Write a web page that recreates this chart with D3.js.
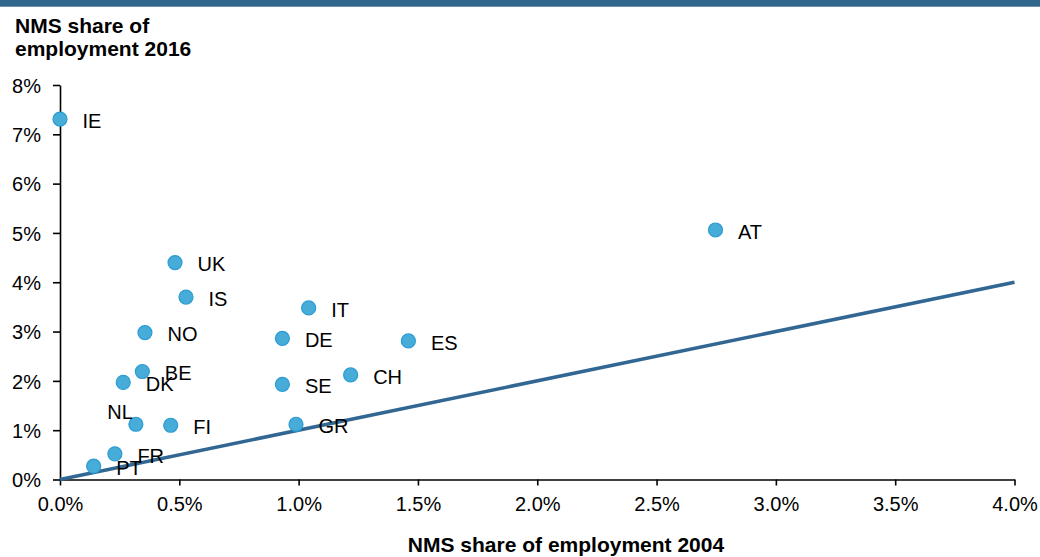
<!DOCTYPE html>
<html>
<head>
<meta charset="utf-8">
<script src="https://cdn.jsdelivr.net/npm/d3@7/dist/d3.min.js"></script>
<style>
  html, body { margin: 0; padding: 0; background: #fff; }
  svg { display: block; font-family: "Liberation Sans", Arial, sans-serif; }
</style>
</head>
<body>
<svg id="chart" width="1040" height="557"></svg>
<script>
// ---- data ----
const countries = ["IE","AT","UK","IS","IT","NO","DE","ES","BE","CH","DK","SE","NL","FI","GR","FR","PT"];
const share2004 = [0.00, 2.747, 0.482, 0.528, 1.042, 0.356, 0.932, 1.460, 0.345, 1.218, 0.265, 0.932, 0.318, 0.464, 0.989, 0.230, 0.141];
const share2016 = [7.31, 5.06, 4.40, 3.70, 3.48, 2.98, 2.86, 2.81, 2.19, 2.12, 1.97, 1.93, 1.12, 1.10, 1.12, 0.52, 0.27];
const xTicks = [0, 0.5, 1, 1.5, 2, 2.5, 3, 3.5, 4];
const yTicks = [0, 1, 2, 3, 4, 5, 6, 7, 8];
const xTitle = "NMS share of employment 2004";
const yTitle = ["NMS share of", "employment 2016"];

// ---- layout ----
const svg = d3.select("#chart");
const W = 1040, H = 557;
const mLeft = 60, mRight = 1014.5, mTop = 85, mBottom = 479.5;

svg.append("rect").attr("x", 0).attr("y", 0).attr("width", W).attr("height", 6.7).attr("fill", "#33668c");

const x = d3.scaleLinear().domain([0, 4]).range([mLeft, mRight]);
const y = d3.scaleLinear().domain([0, 8]).range([mBottom, mTop]);

// axes
const xAxis = svg.append("g").attr("transform", `translate(0,${mBottom})`)
  .call(d3.axisBottom(x).tickValues(xTicks).tickSize(6).tickSizeOuter(0).tickPadding(12)
    .tickFormat(d => d.toFixed(1) + "%"));
const yAxis = svg.append("g").attr("transform", `translate(${mLeft},0)`)
  .call(d3.axisLeft(y).tickValues(yTicks).tickSize(7).tickSizeOuter(0).tickPadding(12)
    .tickFormat(d => d + "%"));
[xAxis, yAxis].forEach(g => {
  g.select(".domain").attr("stroke", "#000").attr("stroke-width", 1.6);
  g.selectAll(".tick line").attr("stroke", "#000").attr("stroke-width", 1.6);
  g.selectAll(".tick text").attr("fill", "#000").style("font-size", "20px")
    .style("font-family", '"Liberation Sans", Arial, sans-serif');
});
xAxis.selectAll(".tick text").attr("dy", "0.68em");
yAxis.selectAll(".tick text").attr("dy", "0.36em");

// diagonal 45° line
svg.append("line")
  .attr("x1", x(0)).attr("y1", y(0)).attr("x2", x(4)).attr("y2", y(4))
  .attr("stroke", "#316792").attr("stroke-width", 3.6);

// points
const pts = countries.map((c, i) => ({ c, x: share2004[i], y: share2016[i] }));
svg.append("g").selectAll("circle").data(pts).join("circle")
  .attr("cx", d => x(d.x)).attr("cy", d => y(d.y)).attr("r", 7)
  .attr("fill", "#48acd9").attr("stroke", "#2a9cd2").attr("stroke-width", 1.2);

// labels (placement: NL sits above-left, the rest to the right)
svg.append("g").selectAll("text").data(pts).join("text")
  .attr("x", d => d.c === "NL" ? x(d.x) - 3 : x(d.x) + 22.5)
  .attr("y", d => d.c === "NL" ? y(d.y) - 12.5 : y(d.y) + 1.5)
  .attr("dy", "0.36em")
  .attr("text-anchor", d => d.c === "NL" ? "end" : "start")
  .style("font-size", "20px").attr("fill", "#000")
  .text(d => d.c);

// titles
svg.append("text").attr("x", 566).attr("y", 552).attr("text-anchor", "middle")
  .style("font-size", "21px").style("font-weight", "bold").text(xTitle);
svg.append("text").attr("x", 15).attr("y", 33)
  .style("font-size", "21px").style("font-weight", "bold")
  .selectAll("tspan").data(yTitle).join("tspan")
  .attr("x", 15).attr("dy", (d, i) => i === 0 ? 0 : 23).text(d => d);
</script>
</body>
</html>
